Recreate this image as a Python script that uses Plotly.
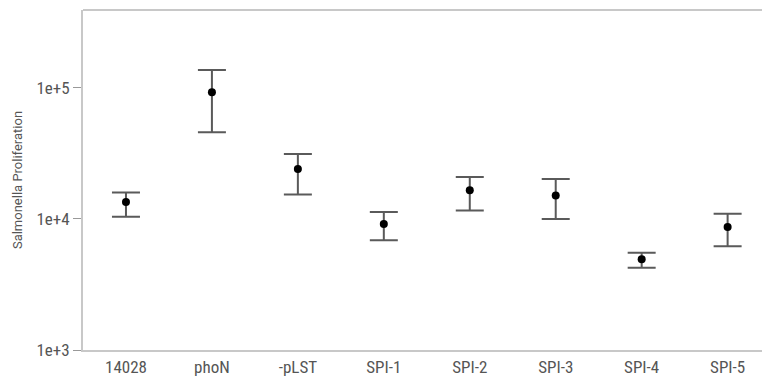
import plotly.graph_objects as go

categories = ["14028", "phoN", "-pLST", "SPI-1", "SPI-2", "SPI-3", "SPI-4", "SPI-5"]
means = [13500, 92700, 24100, 9160, 16600, 15100, 4920, 8690]
upper = [15900, 137000, 31300, 11300, 20900, 20200, 5530, 10970]
lower = [10400, 45900, 15400, 6870, 11600, 10000, 4250, 6180]
tick_vals = [1e3, 1e4, 1e5]
tick_text = ["1e+3", "1e+4", "1e+5"]

err_plus = [u - m for u, m in zip(upper, means)]
err_minus = [m - l for m, l in zip(means, lower)]
xpos = list(range(len(categories)))

narrow = "Liberation Sans Narrow, Roboto Condensed, Roboto, sans-serif"

fig = go.Figure()
fig.add_trace(go.Scatter(
    x=xpos, y=means, mode="markers",
    marker=dict(color="black", size=8),
    error_y=dict(type="data", symmetric=False, array=err_plus, arrayminus=err_minus,
                 color="#5a5a5a", thickness=2, width=14),
    showlegend=False,
))

fig.update_layout(
    width=762, height=381,
    margin=dict(l=83, r=0, t=10, b=31),
    paper_bgcolor="white", plot_bgcolor="white",
    font=dict(family=narrow, color="#555555"),
    shapes=[dict(type="line", xref="paper", yref="paper", x0=0, x1=1, y0=1, y1=1,
                 line=dict(color="#c8c8c8", width=2))],
)
fig.update_xaxes(
    range=[-0.5, 7.4], tickvals=xpos, ticktext=categories,
    showgrid=False, zeroline=False, showline=True, linecolor="#c8c8c8", linewidth=2,
    ticks="", tickfont=dict(family=narrow, size=17, color="#555555"), ticklabelstandoff=1,
)
fig.update_yaxes(
    type="log", range=[3, 5.595], tickvals=tick_vals, ticktext=tick_text,
    showgrid=False, zeroline=False, showline=True, linecolor="#c8c8c8", linewidth=2,
    ticks="outside", ticklen=8, tickcolor="#999999",
    tickfont=dict(family=narrow, size=17, color="#555555"),
    title=dict(text="Salmonella Proliferation",
               font=dict(family="Roboto, sans-serif", size=13, color="#555555"), standoff=11),
)

fig.write_html(
    "out.html",
    config={"displayModeBar": False},
    post_script="document.body.style.margin='0';document.body.style.overflow='hidden';",
)
